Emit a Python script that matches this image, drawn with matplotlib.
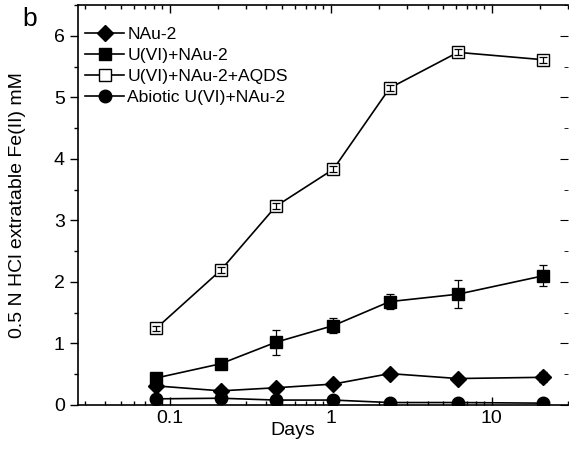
import matplotlib.pyplot as plt

plt.rcParams['font.family'] = ['Liberation Sans', 'DejaVu Sans']

days = [0.083, 0.208, 0.458, 1.04, 2.33, 6.17, 21.0]

nau2 = [0.31, 0.23, 0.28, 0.34, 0.51, 0.43, 0.45]
nau2_err = [0.02, 0.02, 0.03, 0.03, 0.04, 0.03, 0.08]

u_nau2 = [0.44, 0.67, 1.02, 1.29, 1.68, 1.80, 2.10]
u_nau2_err = [0.05, 0.05, 0.20, 0.12, 0.12, 0.23, 0.17]

u_nau2_aqds = [1.25, 2.19, 3.23, 3.83, 5.15, 5.73, 5.61]
u_nau2_aqds_err = [0.04, 0.05, 0.05, 0.05, 0.05, 0.05, 0.05]

abiotic = [0.10, 0.11, 0.08, 0.08, 0.04, 0.04, 0.03]
abiotic_err = [0.01, 0.01, 0.01, 0.01, 0.01, 0.01, 0.01]

labels = ['NAu-2', 'U(VI)+NAu-2', 'U(VI)+NAu-2+AQDS', 'Abiotic U(VI)+NAu-2']
markers = ['D', 's', 's', 'o']
sizes = [8, 9, 9, 9]
faces = ['black', 'black', 'white', 'black']
series = [nau2, u_nau2, u_nau2_aqds, abiotic]
errors = [nau2_err, u_nau2_err, u_nau2_aqds_err, abiotic_err]

fig = plt.figure(figsize=(5.69, 4.51), dpi=100)
ax = fig.add_axes([0.137, 0.102, 0.862, 0.887])

handles = []
for y, e, m, s, fc, lab in zip(series, errors, markers, sizes, faces, labels):
    h, = ax.plot(days, y, color='black', lw=1.2, marker=m, ms=s, mfc=fc, mec='black',
                 label=lab, zorder=2)
    handles.append(h)
    # error bars on top of the markers
    ax.errorbar(days, y, yerr=e, fmt='none', ecolor='black', elinewidth=0.9,
                capsize=3, capthick=0.9, zorder=3)

ax.set_xscale('log')
ax.set_xlim(0.027, 30)
ax.set_ylim(0, 6.5)
ax.set_yticks([0, 1, 2, 3, 4, 5, 6])
ax.set_yticks([0.5, 1.5, 2.5, 3.5, 4.5, 5.5, 6.5], minor=True)
ax.set_xticks([0.1, 1, 10])
ax.set_xticklabels(['0.1', '1', '10'])

ax.tick_params(axis='both', which='major', labelsize=14, length=6, width=1)
ax.tick_params(axis='both', which='minor', length=3, width=1)
ax.tick_params(axis='x', which='both', direction='in', top=True)
ax.tick_params(axis='y', which='both', direction='out', left=True, right=False)
for spine in ax.spines.values():
    spine.set_linewidth(1.2)
ax.spines['right'].set_visible(False)

# inward ticks on the right side, no spine
ax2 = ax.twinx()
ax2.set_ylim(0, 6.5)
ax2.set_yticks([0, 1, 2, 3, 4, 5, 6])
ax2.set_yticks([0.5, 1.5, 2.5, 3.5, 4.5, 5.5, 6.5], minor=True)
ax2.tick_params(axis='y', which='both', direction='in', labelright=False, right=True, left=False)
ax2.tick_params(axis='y', which='major', length=6)
ax2.tick_params(axis='y', which='minor', length=3)
for s in ax2.spines.values():
    s.set_visible(False)

ax.set_xlabel('Days', fontsize=14)
ax.xaxis.set_label_coords(0.438, -0.042)
ax.set_ylabel('0.5 N HCl extratable Fe(II) mM', fontsize=14)
ax.yaxis.set_label_coords(-0.105, 0.5)

fig.text(0.052, 0.985, 'b', fontsize=19, va='top', ha='center')

ax.legend(handles=handles, loc='upper left', bbox_to_anchor=(-0.01, 0.975), frameon=False,
          fontsize=12.6, handlelength=2.2, handletextpad=0.2, labelspacing=0.32,
          borderaxespad=0.3)

fig.savefig('out.png', dpi=100)
